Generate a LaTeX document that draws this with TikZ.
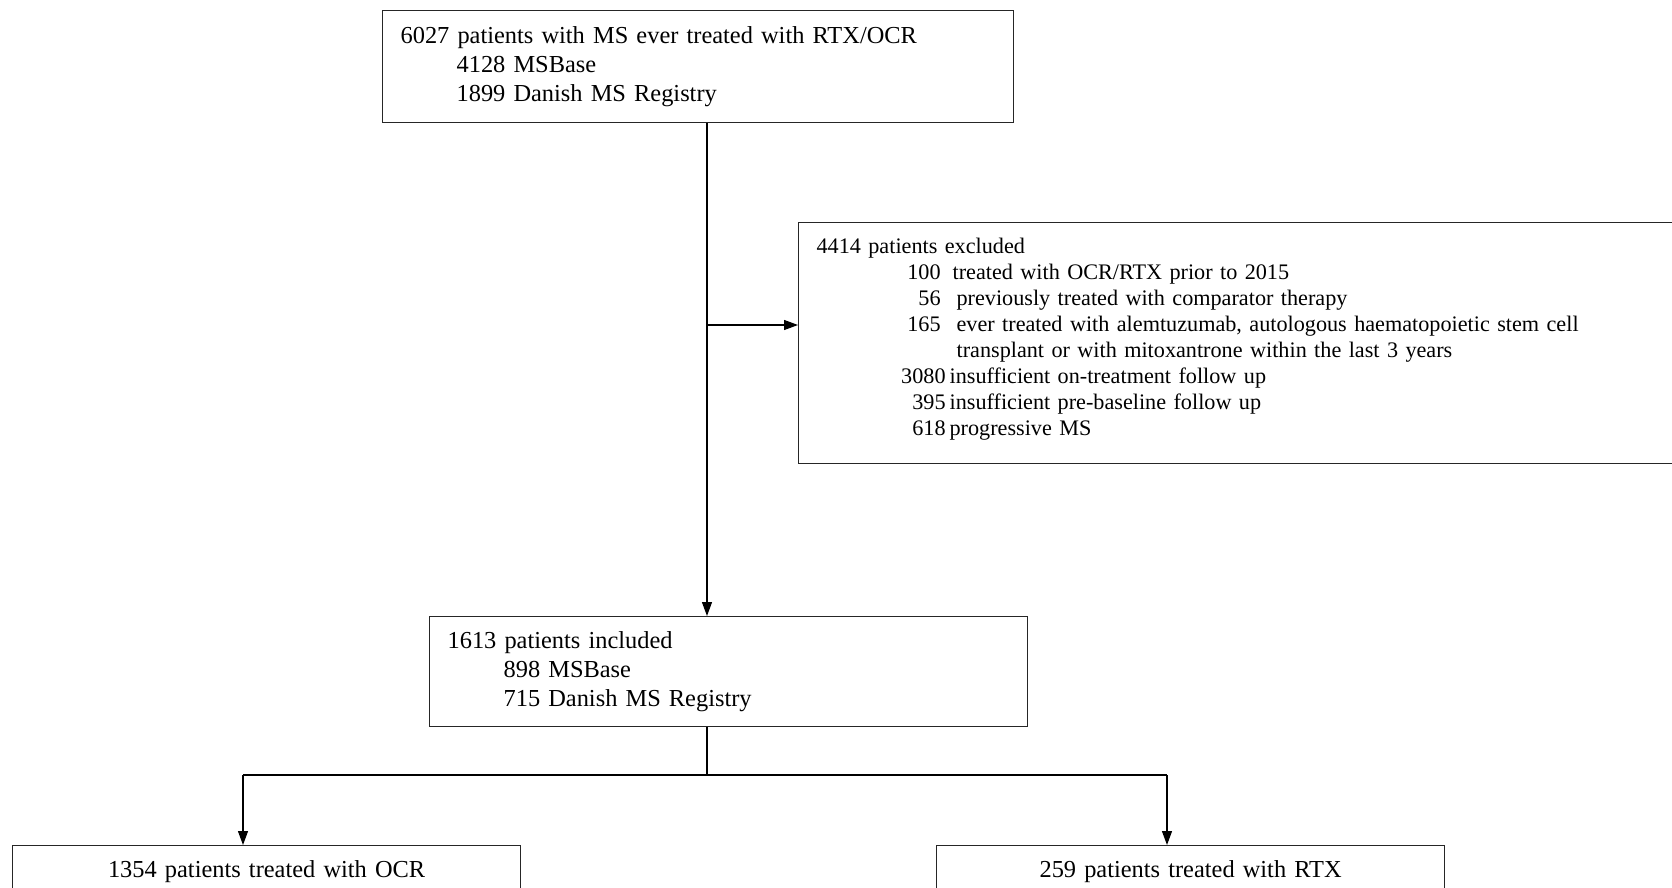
\documentclass[tikz,border=0pt]{standalone}
\usepackage{fontspec}
\setmainfont{Liberation Serif}
\usetikzlibrary{arrows.meta}

\newcommand{\exnum}[2][62pt]{\makebox[#1][r]{#2}}

\begin{document}
\begin{tikzpicture}[
  x=0.5pt, y=-0.5pt,
  box/.style={draw=black!85, line width=0.6pt, anchor=north west, align=left,
    inner xsep=9pt, inner ysep=0pt, font=\fontsize{12.2pt}{14.4pt}\selectfont},
  arr/.style={-{Triangle[length=7pt,width=5pt]}, line width=0.6pt},
  bar/.style={line width=1.2pt}
]
  \useasboundingbox (0,0) rectangle (1672,888);
  \clip (0,0) rectangle (1672,888);

  % boxes
  \node[box, text width=297.5pt, minimum height=56pt] (start) at (382,10)
    {6027 patients with MS ever treated with RTX/OCR\\
     \hspace*{28pt}4128 MSBase\\
     \hspace*{28pt}1899 Danish MS Registry};
  \node[box, text width=443pt, minimum height=120.5pt,
    font=\fontsize{11.1pt}{13pt}\selectfont] (excl) at (798,222)
    {4414 patients excluded\\
     \exnum{100}\hspace{6pt}treated with OCR/RTX prior to 2015\\
     \exnum{56}\hspace{8pt}previously treated with comparator therapy\\
     \exnum{165}\hspace{8pt}ever treated with alemtuzumab, autologous haematopoietic stem cell\\
     \hspace*{70pt}transplant or with mitoxantrone within the last 3 years\\
     \exnum[64.5pt]{3080}\hspace{2pt}insufficient on-treatment follow up\\
     \exnum[64.5pt]{395}\hspace{2pt}insufficient pre-baseline follow up\\
     \exnum[64.5pt]{618}\hspace{2pt}progressive MS\rule[-6.5pt]{0pt}{0pt}};
  \node[box, text width=281pt, minimum height=55pt] (incl) at (429,616)
    {1613 patients included\\
     \hspace*{28pt}898 MSBase\\
     \hspace*{28pt}715 Danish MS Registry};
  \node[box, align=center, text width=236pt, minimum height=26pt] (ocr) at (12,845)
    {1354 patients treated with OCR};
  \node[box, align=center, text width=236pt, minimum height=26pt] (rtx) at (936,845)
    {259 patients treated with RTX};

  % connectors
  \coordinate (spine) at (707,325);
  \coordinate (split) at (707,775);
  \coordinate (splitL) at (243,775);
  \coordinate (splitR) at (1167,775);
  \draw[arr] (start.south -| spine) -- (incl.north -| spine);
  \draw[arr] (spine) -- (spine -| excl.west);
  \draw[line width=0.6pt] (incl.south -| split) -- (split);
  \draw[bar] (splitL) -- (splitR);
  \draw[arr] (splitL) -- (splitL |- ocr.north);
  \draw[arr] (splitR) -- (splitR |- rtx.north);
\end{tikzpicture}
\end{document}
